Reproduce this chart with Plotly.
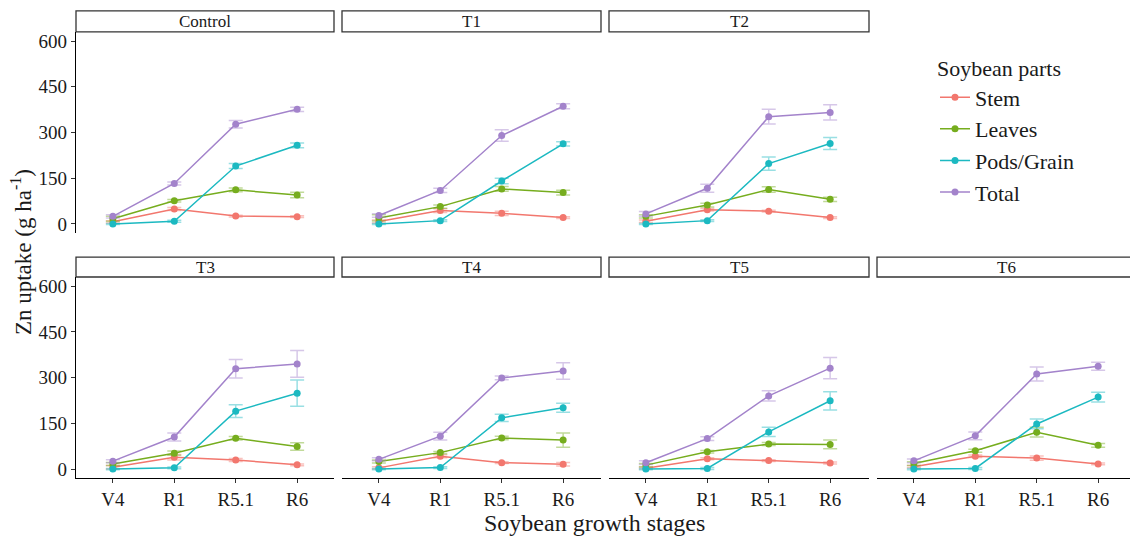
import plotly.graph_objects as go

# ---------------- data ----------------
stages = ["V4", "R1", "R5.1", "R6"]
treatments = ["Control", "T1", "T2", "T3", "T4", "T5", "T6"]
parts = ["Stem", "Leaves", "Pods/Grain", "Total"]

stem_values = [
    [7, 49, 26, 24],
    [8, 44, 35, 21],
    [9, 47, 42, 21],
    [6, 39, 30, 14],
    [4, 42, 21, 16],
    [3, 34, 28, 20],
    [8, 42, 36, 17],
]
leaves_values = [
    [17, 76, 112, 95],
    [20, 57, 115, 103],
    [25, 62, 113, 81],
    [17, 52, 101, 74],
    [25, 54, 102, 95],
    [13, 57, 82, 81],
    [18, 60, 121, 78],
]
pods_values = [
    [0, 9, 190, 258],
    [0, 11, 141, 263],
    [0, 11, 198, 264],
    [0, 4, 190, 249],
    [0, 5, 168, 201],
    [0, 2, 122, 224],
    [0, 2, 148, 236],
]
total_values = [
    [25, 133, 327, 376],
    [28, 110, 290, 386],
    [33, 117, 352, 366],
    [26, 105, 329, 345],
    [32, 108, 299, 322],
    [21, 100, 240, 331],
    [27, 109, 312, 337],
]

stem_err = [
    [4, 5, 3, 3],
    [5, 6, 7, 3],
    [4, 4, 3, 3],
    [6, 9, 5, 3],
    [4, 5, 3, 6],
    [3, 3, 3, 3],
    [4, 4, 7, 3],
]
leaves_err = [
    [8, 4, 6, 9],
    [10, 5, 8, 8],
    [5, 6, 9, 7],
    [5, 7, 6, 12],
    [5, 4, 6, 23],
    [5, 4, 5, 14],
    [6, 5, 16, 6],
]
pods_err = [
    [2, 3, 8, 8],
    [2, 3, 9, 7],
    [2, 3, 22, 20],
    [2, 3, 21, 43],
    [2, 3, 12, 15],
    [2, 3, 15, 30],
    [2, 3, 16, 16],
]
total_err = [
    [5, 5, 12, 7],
    [6, 7, 19, 8],
    [8, 13, 24, 25],
    [5, 13, 30, 44],
    [5, 13, 6, 27],
    [6, 6, 17, 35],
    [6, 13, 23, 13],
]

y_ticks = [0, 150, 300, 450, 600]

# ---------------- styling ----------------
W, H = 1130, 542
FONT = "Liberation Serif, Times New Roman, serif"
TXT = "#1a1a1a"
colors = ["#F2776E", "#76AD1E", "#1CB9C1", "#A383CB"]
err_colors = ["rgba(242,119,110,0.45)", "rgba(118,173,30,0.45)",
              "rgba(28,185,193,0.45)", "rgba(163,131,203,0.45)"]

col_px = [(76, 334), (342, 601), (609, 869), (877, 1130)]
row_px = [(31, 233), (277, 479)]
strip_px = [(10, 31), (257, 277)]
positions = [(0, 0), (0, 1), (0, 2), (1, 0), (1, 1), (1, 2), (1, 3)]
unit_px = (334 - 76) / 4.2


def px_x(v):
    return v / W


def px_y(v):
    return 1 - v / H


series = [
    (stem_values, stem_err),
    (leaves_values, leaves_err),
    (pods_values, pods_err),
    (total_values, total_err),
]

fig = go.Figure()
layout = {}
shapes = []
annotations = []

for i, (tname, (r, c)) in enumerate(zip(treatments, positions)):
    idx = i + 1
    xa = "x" if idx == 1 else f"x{idx}"
    ya = "y" if idx == 1 else f"y{idx}"
    xk = "xaxis" if idx == 1 else f"xaxis{idx}"
    yk = "yaxis" if idx == 1 else f"yaxis{idx}"
    x0, x1 = col_px[c]
    y0, y1 = row_px[r]

    for p, (vals, errs) in enumerate(series):
        fig.add_trace(go.Scatter(
            x=stages, y=vals[i],
            error_y=dict(type="data", array=errs[i], color=err_colors[p],
                         thickness=1.5, width=7),
            mode="lines+markers",
            line=dict(color=colors[p], width=1.5),
            marker=dict(color=colors[p], size=7),
            name=parts[p], legendgroup=parts[p], showlegend=(i == 0),
            xaxis=xa, yaxis=ya,
        ))

    span = (x1 - x0) / unit_px
    bottom = (r == 1)
    left = (c == 0)
    layout[xk] = dict(
        domain=[px_x(x0), min(px_x(x1), 1.0)],
        anchor=ya, type="category", categoryorder="array", categoryarray=stages,
        range=[-0.6, -0.6 + span],
        showgrid=False, zeroline=False,
        showline=bottom, linecolor="black", linewidth=1.2,
        ticks="outside" if bottom else "", ticklen=4, tickcolor="#333",
        showticklabels=bottom,
        tickfont=dict(family=FONT, size=19, color=TXT),
    )
    layout[yk] = dict(
        domain=[px_y(y1), px_y(y0)],
        anchor=xa, range=[-30, 630],
        tickvals=y_ticks, ticktext=[str(t) for t in y_ticks],
        showgrid=False, zeroline=False,
        showline=left, linecolor="black", linewidth=1.2,
        ticks="outside" if left else "", ticklen=4, tickcolor="#333",
        showticklabels=left,
        tickfont=dict(family=FONT, size=19, color=TXT),
    )

    sy0, sy1 = strip_px[r]
    full_x1 = x0 + 4.2 * unit_px
    shapes.append(dict(
        type="rect", xref="paper", yref="paper",
        x0=px_x(x0), x1=px_x(full_x1 if c == 3 else x1),
        y0=px_y(sy1), y1=px_y(sy0),
        line=dict(color="#333333", width=1.3), fillcolor="white", layer="below",
    ))
    annotations.append(dict(
        text=tname, xref="paper", yref="paper",
        x=px_x((x0 + (full_x1 if c == 3 else x1)) / 2),
        y=px_y((sy0 + sy1) / 2 + 0.5),
        xanchor="center", yanchor="middle", showarrow=False,
        font=dict(family=FONT, size=17, color=TXT),
    ))

annotations.append(dict(
    text="Zn uptake (g ha<sup>-1</sup>)", xref="paper", yref="paper",
    x=px_x(21), y=px_y(252), textangle=-90,
    xanchor="center", yanchor="middle", showarrow=False,
    font=dict(family=FONT, size=23, color=TXT),
))
annotations.append(dict(
    text="Soybean growth stages", xref="paper", yref="paper",
    x=px_x(594), y=px_y(524),
    xanchor="center", yanchor="middle", showarrow=False,
    font=dict(family=FONT, size=24, color=TXT),
))

fig.update_layout(
    width=W, height=H,
    margin=dict(l=0, r=0, t=0, b=0),
    paper_bgcolor="white", plot_bgcolor="white",
    showlegend=True,
    legend=dict(
        title=dict(text="Soybean parts", font=dict(family=FONT, size=22, color=TXT)),
        font=dict(family=FONT, size=22, color=TXT),
        x=px_x(935), y=px_y(47), xanchor="left", yanchor="top",
        bgcolor="rgba(0,0,0,0)", tracegroupgap=0, itemwidth=30,
    ),
    shapes=shapes,
    annotations=annotations,
    **layout,
)

fig.write_html("out.html")
